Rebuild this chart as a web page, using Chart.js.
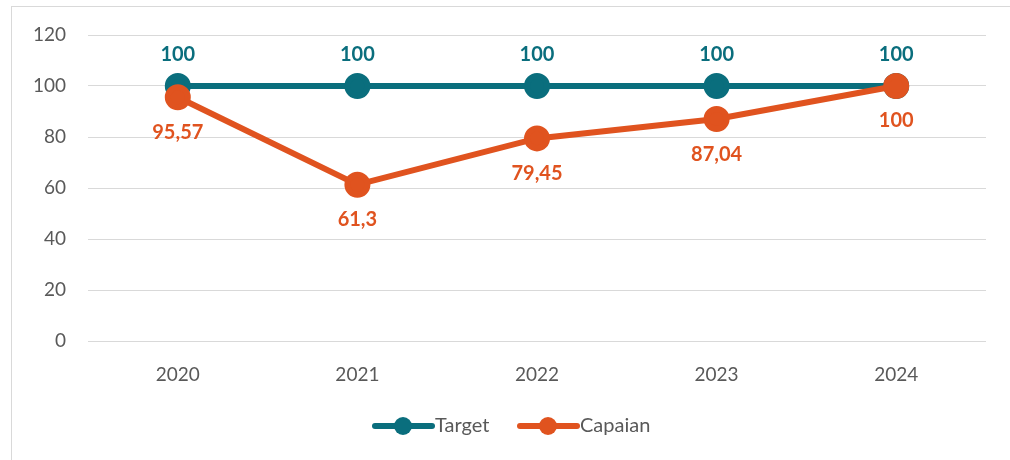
<!DOCTYPE html>
<html>
<head>
<meta charset="utf-8">
<script src="https://cdn.jsdelivr.net/npm/chart.js@4/dist/chart.umd.min.js"></script>
<style>
    body { margin: 0; background: #fff; }
    #wrap { position: relative; width: 1010px; height: 460px; }
    #frame { position: absolute; left: 11px; top: 6px; width: 1010px; height: 460px; border: 1px solid #d9d9d9; }
    canvas { position: absolute; left: 0; top: 0; }
</style>
</head>
<body>
<div id="wrap">
    <div id="frame"></div>
    <canvas id="myLineChart" width="1010" height="460"></canvas>
</div>
<script>
var years = ['2020', '2021', '2022', '2023', '2024'];
var targetValues = [100, 100, 100, 100, 100];
var capaianValues = [95.57, 61.3, 79.45, 87.04, 100];
var yTicks = [0, 20, 40, 60, 80, 100, 120];

var tealColor = '#0a6e7d';
var orangeColor = '#e0531f';
var fontFamily = 'Lato, "Open Sans", sans-serif';

// value labels above / below the points
var valueLabels = {
    id: 'valueLabels',
    afterDatasetsDraw: function(chart) {
        var ctx = chart.ctx;
        ctx.save();
        ctx.font = 'bold 20px ' + fontFamily;
        ctx.textAlign = 'center';
        ctx.textBaseline = 'middle';
        chart.data.datasets.forEach(function(ds, i) {
            var meta = chart.getDatasetMeta(i);
            ctx.fillStyle = ds.borderColor;
            meta.data.forEach(function(pt, j) {
                var text = String(ds.data[j]).replace('.', ',');
                var y = i === 0 ? pt.y - 31 : pt.y + 35;
                ctx.fillText(text, pt.x, y);
            });
        });
        ctx.restore();
    }
};

// legend drawn as line + marker like the original
var lineLegend = {
    id: 'lineLegend',
    afterDraw: function(chart) {
        var ctx = chart.ctx;
        var items = [
            { label: chart.data.datasets[0].label, color: tealColor, x: 375 },
            { label: chart.data.datasets[1].label, color: orangeColor, x: 520 }
        ];
        var y = 426;
        ctx.save();
        ctx.font = '20px ' + fontFamily;
        ctx.textBaseline = 'middle';
        items.forEach(function(item) {
            ctx.strokeStyle = item.color;
            ctx.lineWidth = 6;
            ctx.lineCap = 'round';
            ctx.beginPath();
            ctx.moveTo(item.x, y);
            ctx.lineTo(item.x + 57, y);
            ctx.stroke();
            ctx.fillStyle = item.color;
            ctx.beginPath();
            ctx.arc(item.x + 28, y, 9, 0, Math.PI * 2);
            ctx.fill();
            ctx.fillStyle = '#595959';
            ctx.fillText(item.label, item.x + 60, y);
        });
        ctx.restore();
    }
};

var ctx = document.getElementById('myLineChart').getContext('2d');
new Chart(ctx, {
    type: 'line',
    data: {
        labels: years,
        datasets: [
            {
                label: 'Target',
                data: targetValues,
                order: 2,
                borderColor: tealColor,
                backgroundColor: tealColor,
                pointBackgroundColor: tealColor,
                pointBorderColor: tealColor,
                borderWidth: 6,
                pointRadius: 10,
                tension: 0,
                fill: false
            },
            {
                label: 'Capaian',
                data: capaianValues,
                order: 1,
                borderColor: orangeColor,
                backgroundColor: orangeColor,
                pointBackgroundColor: orangeColor,
                pointBorderColor: orangeColor,
                borderWidth: 6,
                pointRadius: 10,
                tension: 0,
                fill: false
            }
        ]
    },
    plugins: [valueLabels, lineLegend],
    options: {
        responsive: false,
        animation: false,
        layout: {
            padding: { left: 0, top: 35, right: 24, bottom: 0 }
        },
        plugins: {
            legend: { display: false },
            tooltip: { enabled: false }
        },
        scales: {
            x: {
                offset: true,
                grid: { display: false, drawTicks: false },
                border: { display: false },
                ticks: {
                    padding: 22,
                    color: '#595959',
                    font: { family: fontFamily, size: 19 }
                },
                afterFit: function(scale) {
                    scale.height = 119;
                }
            },
            y: {
                min: 0,
                max: 120,
                afterBuildTicks: function(scale) {
                    scale.ticks = yTicks.map(function(v) { return { value: v }; });
                },
                grid: { color: '#d9d9d9', lineWidth: 1, drawTicks: false },
                border: { display: false },
                ticks: {
                    padding: 22,
                    color: '#595959',
                    font: { family: fontFamily, size: 19 }
                },
                afterFit: function(scale) {
                    scale.width = 88;
                }
            }
        }
    }
});
</script>
</body>
</html>
